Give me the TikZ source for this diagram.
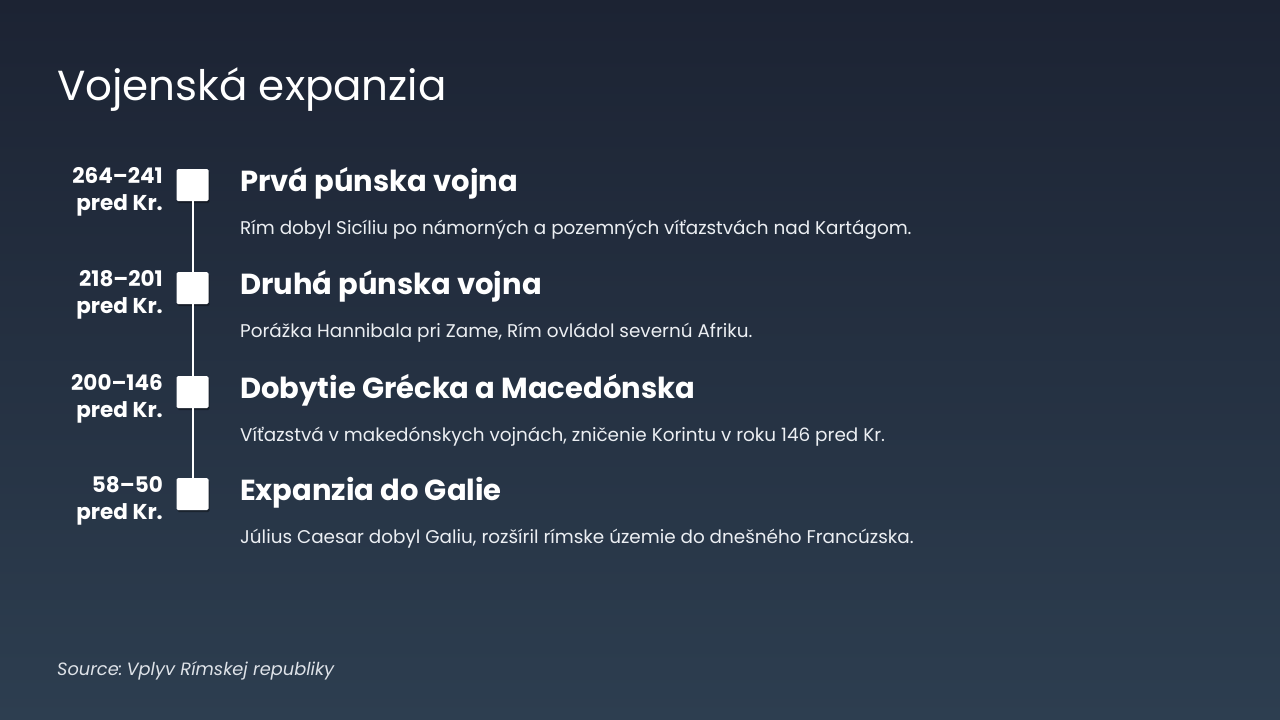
\documentclass[tikz,border=0pt]{standalone}
\usepackage{fontspec}
\setmainfont{Poppins}
\usetikzlibrary{shadows}
\definecolor{bgtop}{RGB}{28,35,51}
\definecolor{bgbot}{RGB}{45,62,80}
\definecolor{desc}{RGB}{236,239,243}
\definecolor{src}{RGB}{222,226,232}
\tikzset{
  datetxt/.style={anchor=base east, text=white, font=\fontsize{21.5}{26}\selectfont\bfseries, inner sep=0pt},
  headtxt/.style={anchor=base west, text=white, font=\fontsize{29}{36}\selectfont\bfseries, inner sep=0pt},
  desctxt/.style={anchor=base west, text=desc, font=\fontsize{18.4}{24}\selectfont, inner sep=0pt},
  marker/.style={fill=white, rounded corners=1.5pt, minimum size=32pt, inner sep=0pt, draw=none,
    drop shadow={shadow xshift=1pt, shadow yshift=-2pt, opacity=0.35, fill=black}},
  spine/.style={draw=white, line width=2pt}
}
\begin{document}
\begin{tikzpicture}[x=1pt,y=-1pt]
\shade[top color=bgtop, bottom color=bgbot] (0,0) rectangle (1280,720);
\useasboundingbox (0,0) rectangle (1280,720);
\node[anchor=base west, text=white, font=\fontsize{42}{48}\selectfont, inner sep=0pt] (title) at (57,100) {Vojenská expanzia};

\foreach \i/\y/\da/\head/\desc in {
  1/169/264–241/Prvá púnska vojna/Rím dobyl Sicíliu po námorných a pozemných víťazstvách nad Kartágom.,
  2/272/218–201/Druhá púnska vojna/{Porážka Hannibala pri Zame, Rím ovládol severnú Afriku.},
  3/376/200–146/Dobytie Grécka a Macedónska/{Víťazstvá v makedónskych vojnách, zničenie Korintu v roku 146 pred Kr.},
  4/478/58–50/Expanzia do Galie/{Július Caesar dobyl Galiu, rozšíril rímske územie do dnešného Francúzska.}}
{
  \node[marker] (m\i) at (192.5,\y+16) {};
  \node[datetxt] (d\i) at (163,\y+14) {\da};
  \node[datetxt] (p\i) at (163,\y+41) {pred Kr.};
  \node[headtxt] (h\i) at (240,\y+22) {\head};
  \node[desctxt] (t\i) at (240,\y+65) {\desc};
}
\draw[spine] (m1.south) -- (m2.north);
\draw[spine] (m2.south) -- (m3.north);
\draw[spine] (m3.south) -- (m4.north);

\node[anchor=base west, text=src, font=\fontsize{17.8}{24}\selectfont\itshape, inner sep=0pt] (source) at (57,675) {Source:\kern-3pt{} Vplyv Rímskej republiky};
\end{tikzpicture}
\end{document}
